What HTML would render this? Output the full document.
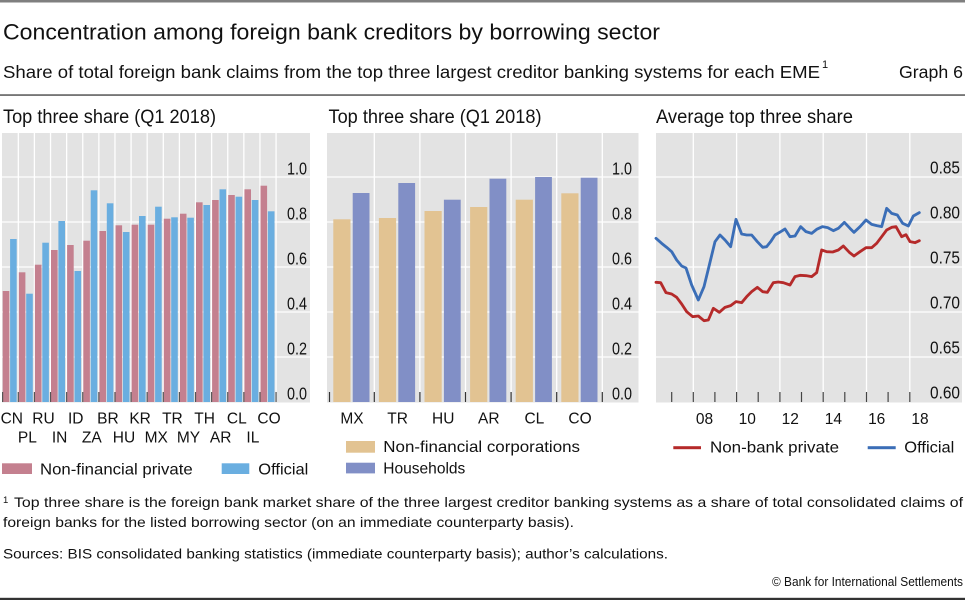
<!DOCTYPE html>
<html><head><meta charset="utf-8"><style>
html,body{margin:0;padding:0;background:#fff;}
svg{display:block;font-family:"Liberation Sans",Arial,sans-serif;}
</style></head><body>
<svg width="965" height="603" viewBox="0 0 965 603" xmlns="http://www.w3.org/2000/svg">
<rect x="0" y="0" width="965" height="603" fill="#fff"/>
<rect x="0" y="0" width="965" height="2.5" fill="#7f7f7f"/>
<text x="3" y="39.5" font-size="22" fill="#111" textLength="657" lengthAdjust="spacingAndGlyphs">Concentration among foreign bank creditors by borrowing sector</text>
<text x="3" y="78" font-size="17.5" fill="#111" textLength="817" lengthAdjust="spacingAndGlyphs">Share of total foreign bank claims from the top three largest creditor banking systems for each EME</text>
<text x="822" y="68" font-size="11" fill="#111">1</text>
<text x="963" y="78" font-size="17.5" fill="#111" text-anchor="end" textLength="64" lengthAdjust="spacingAndGlyphs">Graph 6</text>
<rect x="0" y="94.3" width="965" height="1.5" fill="#555"/>

<text x="3" y="123" font-size="19" fill="#111" textLength="213" lengthAdjust="spacingAndGlyphs">Top three share (Q1 2018)</text>
<text x="328.5" y="123" font-size="19" fill="#111" textLength="213" lengthAdjust="spacingAndGlyphs">Top three share (Q1 2018)</text>
<text x="656" y="123" font-size="19" fill="#111" textLength="197" lengthAdjust="spacingAndGlyphs">Average top three share</text>

<!-- LEFT PANEL -->
<rect x="2" y="133" width="308" height="269.5" fill="#e3e3e3"/>
<g stroke="#fff" stroke-width="1.3">
<line x1="2" y1="177" x2="310" y2="177"/><line x1="2" y1="222" x2="310" y2="222"/><line x1="2" y1="267" x2="310" y2="267"/><line x1="2" y1="312" x2="310" y2="312"/><line x1="2" y1="357" x2="310" y2="357"/>
<line x1="18.31" y1="133" x2="18.31" y2="402"/><line x1="34.42" y1="133" x2="34.42" y2="402"/><line x1="50.53" y1="133" x2="50.53" y2="402"/><line x1="66.64" y1="133" x2="66.64" y2="402"/><line x1="82.75" y1="133" x2="82.75" y2="402"/><line x1="98.86" y1="133" x2="98.86" y2="402"/><line x1="114.97" y1="133" x2="114.97" y2="402"/><line x1="131.08" y1="133" x2="131.08" y2="402"/><line x1="147.19" y1="133" x2="147.19" y2="402"/><line x1="163.3" y1="133" x2="163.3" y2="402"/><line x1="179.41" y1="133" x2="179.41" y2="402"/><line x1="195.52" y1="133" x2="195.52" y2="402"/><line x1="211.63" y1="133" x2="211.63" y2="402"/><line x1="227.74" y1="133" x2="227.74" y2="402"/><line x1="243.85" y1="133" x2="243.85" y2="402"/><line x1="259.96" y1="133" x2="259.96" y2="402"/><line x1="276.07" y1="133" x2="276.07" y2="402"/>
</g>
<g fill="#c4808f">
<rect x="2.7" y="291" width="6.6" height="111"/>
<rect x="18.8" y="272.3" width="6.6" height="129.7"/>
<rect x="34.9" y="264.7" width="6.6" height="137.3"/>
<rect x="51.0" y="250" width="6.6" height="152"/>
<rect x="67.1" y="245" width="6.6" height="157"/>
<rect x="83.3" y="240.7" width="6.6" height="161.3"/>
<rect x="99.4" y="231" width="6.6" height="171"/>
<rect x="115.5" y="225.3" width="6.6" height="176.7"/>
<rect x="131.6" y="224.7" width="6.6" height="177.3"/>
<rect x="147.7" y="224.7" width="6.6" height="177.3"/>
<rect x="163.8" y="218.7" width="6.6" height="183.3"/>
<rect x="179.9" y="213.7" width="6.6" height="188.3"/>
<rect x="196.0" y="202.3" width="6.6" height="199.7"/>
<rect x="212.1" y="200" width="6.6" height="202"/>
<rect x="228.2" y="195" width="6.6" height="207"/>
<rect x="244.4" y="189.3" width="6.6" height="212.7"/>
<rect x="260.5" y="185.7" width="6.6" height="216.3"/>
</g>
<g fill="#6aaee0">
<rect x="10.1" y="239" width="6.6" height="163"/>
<rect x="26.2" y="293.7" width="6.6" height="108.3"/>
<rect x="42.3" y="242.7" width="6.6" height="159.3"/>
<rect x="58.4" y="221" width="6.6" height="181"/>
<rect x="74.5" y="271" width="6.6" height="131"/>
<rect x="90.7" y="190.3" width="6.6" height="211.7"/>
<rect x="106.8" y="203.3" width="6.6" height="198.7"/>
<rect x="122.9" y="232" width="6.6" height="170"/>
<rect x="139.0" y="216" width="6.6" height="186"/>
<rect x="155.1" y="206.7" width="6.6" height="195.3"/>
<rect x="171.2" y="217.3" width="6.6" height="184.7"/>
<rect x="187.3" y="217.7" width="6.6" height="184.3"/>
<rect x="203.4" y="205" width="6.6" height="197"/>
<rect x="219.5" y="189.3" width="6.6" height="212.7"/>
<rect x="235.6" y="196.7" width="6.6" height="205.3"/>
<rect x="251.8" y="200" width="6.6" height="202"/>
<rect x="267.9" y="211.3" width="6.6" height="190.7"/>
</g>
<g stroke="#555" stroke-width="1.2">
<line x1="2.6" y1="392" x2="2.6" y2="402"/><line x1="18.31" y1="392" x2="18.31" y2="402"/><line x1="34.42" y1="392" x2="34.42" y2="402"/><line x1="50.53" y1="392" x2="50.53" y2="402"/><line x1="66.64" y1="392" x2="66.64" y2="402"/><line x1="82.75" y1="392" x2="82.75" y2="402"/><line x1="98.86" y1="392" x2="98.86" y2="402"/><line x1="114.97" y1="392" x2="114.97" y2="402"/><line x1="131.08" y1="392" x2="131.08" y2="402"/><line x1="147.19" y1="392" x2="147.19" y2="402"/><line x1="163.3" y1="392" x2="163.3" y2="402"/><line x1="179.41" y1="392" x2="179.41" y2="402"/><line x1="195.52" y1="392" x2="195.52" y2="402"/><line x1="211.63" y1="392" x2="211.63" y2="402"/><line x1="227.74" y1="392" x2="227.74" y2="402"/><line x1="243.85" y1="392" x2="243.85" y2="402"/><line x1="259.96" y1="392" x2="259.96" y2="402"/><line x1="276.07" y1="392" x2="276.07" y2="402"/>
</g>
<g font-size="17.5" fill="#111">
<text x="287" y="174.5" textLength="20" lengthAdjust="spacingAndGlyphs">1.0</text>
<text x="287" y="219.5" textLength="20" lengthAdjust="spacingAndGlyphs">0.8</text>
<text x="287" y="264.5" textLength="20" lengthAdjust="spacingAndGlyphs">0.6</text>
<text x="287" y="309.5" textLength="20" lengthAdjust="spacingAndGlyphs">0.4</text>
<text x="287" y="354.5" textLength="20" lengthAdjust="spacingAndGlyphs">0.2</text>
<text x="287" y="399.5" textLength="20" lengthAdjust="spacingAndGlyphs">0.0</text>
</g>
<g font-size="15.5" fill="#111" text-anchor="middle">
<text x="11.8" y="423.3">CN</text>
<text x="27.4" y="442.7">PL</text>
<text x="43.5" y="423.3">RU</text>
<text x="59.6" y="442.7">IN</text>
<text x="75.7" y="423.3">ID</text>
<text x="91.8" y="442.7">ZA</text>
<text x="107.9" y="423.3">BR</text>
<text x="124.0" y="442.7">HU</text>
<text x="140.1" y="423.3">KR</text>
<text x="156.2" y="442.7">MX</text>
<text x="172.4" y="423.3">TR</text>
<text x="188.5" y="442.7">MY</text>
<text x="204.6" y="423.3">TH</text>
<text x="220.7" y="442.7">AR</text>
<text x="236.8" y="423.3">CL</text>
<text x="252.9" y="442.7">IL</text>
<text x="269.0" y="423.3">CO</text>
</g>
<rect x="2" y="463.3" width="30" height="10.7" fill="#c4808f"/>
<text x="40" y="474.5" font-size="16" fill="#111" textLength="152.7" lengthAdjust="spacingAndGlyphs">Non-financial private</text>
<rect x="221.7" y="463.3" width="27.6" height="10.7" fill="#6aaee0"/>
<text x="258.3" y="474.5" font-size="16" fill="#111" textLength="50" lengthAdjust="spacingAndGlyphs">Official</text>

<!-- MIDDLE PANEL -->
<rect x="327" y="133" width="311.5" height="269.5" fill="#e3e3e3"/>
<g stroke="#fff" stroke-width="1.3">
<line x1="327" y1="177" x2="638.5" y2="177"/><line x1="327" y1="222" x2="638.5" y2="222"/><line x1="327" y1="267" x2="638.5" y2="267"/><line x1="327" y1="312" x2="638.5" y2="312"/><line x1="327" y1="357" x2="638.5" y2="357"/>
<line x1="374.3" y1="133" x2="374.3" y2="402"/><line x1="419.9" y1="133" x2="419.9" y2="402"/><line x1="465.5" y1="133" x2="465.5" y2="402"/><line x1="511.1" y1="133" x2="511.1" y2="402"/><line x1="556.7" y1="133" x2="556.7" y2="402"/><line x1="602.3" y1="133" x2="602.3" y2="402"/>
</g>
<g fill="#e2c392">
<rect x="333.3" y="219.3" width="17.2" height="182.7"/>
<rect x="378.9" y="218" width="17.2" height="184"/>
<rect x="424.5" y="211" width="17.2" height="191"/>
<rect x="470.1" y="207" width="17.2" height="195"/>
<rect x="515.7" y="199.7" width="17.2" height="202.3"/>
<rect x="561.3" y="193.3" width="17.2" height="208.7"/>
</g>
<g fill="#818fc6">
<rect x="352.7" y="193" width="16.8" height="209"/>
<rect x="398.3" y="183" width="16.8" height="219"/>
<rect x="443.9" y="199.7" width="16.8" height="202.3"/>
<rect x="489.5" y="178.7" width="16.8" height="223.3"/>
<rect x="535.1" y="177" width="16.8" height="225"/>
<rect x="580.7" y="177.7" width="16.8" height="224.3"/>
</g>
<g stroke="#333" stroke-width="1.2">
<line x1="329.5" y1="392" x2="329.5" y2="402"/><line x1="374.3" y1="392" x2="374.3" y2="402"/><line x1="419.9" y1="392" x2="419.9" y2="402"/><line x1="465.5" y1="392" x2="465.5" y2="402"/><line x1="511.1" y1="392" x2="511.1" y2="402"/><line x1="556.7" y1="392" x2="556.7" y2="402"/><line x1="602.3" y1="392" x2="602.3" y2="402"/>
</g>
<g font-size="17.5" fill="#111">
<text x="612" y="174.5" textLength="20" lengthAdjust="spacingAndGlyphs">1.0</text>
<text x="612" y="219.5" textLength="20" lengthAdjust="spacingAndGlyphs">0.8</text>
<text x="612" y="264.5" textLength="20" lengthAdjust="spacingAndGlyphs">0.6</text>
<text x="612" y="309.5" textLength="20" lengthAdjust="spacingAndGlyphs">0.4</text>
<text x="612" y="354.5" textLength="20" lengthAdjust="spacingAndGlyphs">0.2</text>
<text x="612" y="399.5" textLength="20" lengthAdjust="spacingAndGlyphs">0.0</text>
</g>
<g font-size="15.5" fill="#111" text-anchor="middle">
<text x="352" y="423.3">MX</text>
<text x="397.6" y="423.3">TR</text>
<text x="443.2" y="423.3">HU</text>
<text x="488.8" y="423.3">AR</text>
<text x="534.4" y="423.3">CL</text>
<text x="580" y="423.3">CO</text>
</g>
<rect x="346" y="441" width="29" height="11.7" fill="#e2c392"/>
<text x="383.3" y="452" font-size="16" fill="#111" textLength="196.7" lengthAdjust="spacingAndGlyphs">Non-financial corporations</text>
<rect x="346" y="462.7" width="29" height="10.7" fill="#818fc6"/>
<text x="383.3" y="473.3" font-size="16" fill="#111" textLength="82" lengthAdjust="spacingAndGlyphs">Households</text>

<!-- RIGHT PANEL -->
<rect x="656" y="133" width="306" height="269.5" fill="#e3e3e3"/>
<g stroke="#fff" stroke-width="1.3">
<line x1="656" y1="177" x2="962" y2="177"/><line x1="656" y1="222" x2="962" y2="222"/><line x1="656" y1="267" x2="962" y2="267"/><line x1="656" y1="312" x2="962" y2="312"/><line x1="656" y1="357" x2="962" y2="357"/>
<line x1="693.3" y1="133" x2="693.3" y2="402"/><line x1="736.6" y1="133" x2="736.6" y2="402"/><line x1="779.9" y1="133" x2="779.9" y2="402"/><line x1="823.2" y1="133" x2="823.2" y2="402"/><line x1="866.5" y1="133" x2="866.5" y2="402"/><line x1="909.8" y1="133" x2="909.8" y2="402"/>
</g>
<g stroke="#444" stroke-width="1.2">
<line x1="671.7" y1="392" x2="671.7" y2="402"/><line x1="693.3" y1="392" x2="693.3" y2="402"/><line x1="714.9" y1="392" x2="714.9" y2="402"/><line x1="736.6" y1="392" x2="736.6" y2="402"/><line x1="758.2" y1="392" x2="758.2" y2="402"/><line x1="779.9" y1="392" x2="779.9" y2="402"/><line x1="801.5" y1="392" x2="801.5" y2="402"/><line x1="823.2" y1="392" x2="823.2" y2="402"/><line x1="844.8" y1="392" x2="844.8" y2="402"/><line x1="866.5" y1="392" x2="866.5" y2="402"/><line x1="888.1" y1="392" x2="888.1" y2="402"/><line x1="909.8" y1="392" x2="909.8" y2="402"/>
</g>
<g transform="translate(650,130) scale(0.33333)" fill="none" stroke-linejoin="round" stroke-linecap="round" stroke-width="8.5">
<polyline stroke="#b52a2a" points="18,457 32,458 48,488 65,492 80,502 95,522 110,545 128,560 145,558 162,572 175,570 190,535 208,547 225,532 242,527 258,515 275,518 290,500 305,485 322,472 338,485 352,487 370,458 385,456 400,458 420,465 435,440 450,436 468,437 485,440 500,428 515,360 530,365 548,366 565,360 580,348 598,367 612,378 630,365 648,353 665,353 680,340 695,320 710,300 725,292 738,290 755,320 768,314 780,335 795,338 808,332"/>
<polyline stroke="#3b6eb7" points="18,325 35,340 50,352 65,365 80,390 95,408 108,414 125,465 145,510 162,470 178,405 195,335 210,315 225,330 242,350 258,268 275,312 290,315 305,315 322,335 338,352 350,350 362,335 375,315 392,305 405,297 420,320 435,318 452,290 468,305 485,310 500,298 517,290 533,293 550,302 565,295 583,277 600,295 612,307 630,290 648,270 665,283 680,287 695,290 710,235 725,250 742,255 758,280 775,288 790,258 808,248"/>
</g>
<g font-size="17.5" fill="#111">
<text x="930" y="173.5" textLength="30" lengthAdjust="spacingAndGlyphs">0.85</text>
<text x="930" y="218.5" textLength="30" lengthAdjust="spacingAndGlyphs">0.80</text>
<text x="930" y="263.5" textLength="30" lengthAdjust="spacingAndGlyphs">0.75</text>
<text x="930" y="308.5" textLength="30" lengthAdjust="spacingAndGlyphs">0.70</text>
<text x="930" y="353.5" textLength="30" lengthAdjust="spacingAndGlyphs">0.65</text>
<text x="930" y="398.5" textLength="30" lengthAdjust="spacingAndGlyphs">0.60</text>
</g>
<g font-size="15.5" fill="#111" text-anchor="middle">
<text x="704.5" y="424">08</text>
<text x="747.3" y="424">10</text>
<text x="790.3" y="424">12</text>
<text x="833.4" y="424">14</text>
<text x="876.7" y="424">16</text>
<text x="920" y="424">18</text>
</g>
<rect x="673.3" y="446.2" width="27.7" height="3" fill="#b52a2a"/>
<text x="710" y="452.5" font-size="16" fill="#111" textLength="129" lengthAdjust="spacingAndGlyphs">Non-bank private</text>
<rect x="867.7" y="446.2" width="28" height="3" fill="#3b6eb7"/>
<text x="904.3" y="452.5" font-size="16" fill="#111" textLength="50" lengthAdjust="spacingAndGlyphs">Official</text>

<!-- FOOTNOTES -->
<text x="3" y="503" font-size="9.5" fill="#111">1</text>
<text x="14" y="507" font-size="14" fill="#111" textLength="949" lengthAdjust="spacingAndGlyphs">Top three share is the foreign bank market share of the three largest creditor banking systems as a share of total consolidated claims of</text>
<text x="3" y="527" font-size="14" fill="#111" textLength="571" lengthAdjust="spacingAndGlyphs">foreign banks for the listed borrowing sector (on an immediate counterparty basis).</text>
<text x="3" y="558.5" font-size="14" fill="#111" textLength="665" lengthAdjust="spacingAndGlyphs">Sources: BIS consolidated banking statistics (immediate counterparty basis); author’s calculations.</text>
<text x="963" y="586" font-size="12.5" fill="#111" text-anchor="end" textLength="191" lengthAdjust="spacingAndGlyphs">© Bank for International Settlements</text>
<rect x="0" y="597.8" width="965" height="2.2" fill="#333"/>
</svg>
</body></html>
